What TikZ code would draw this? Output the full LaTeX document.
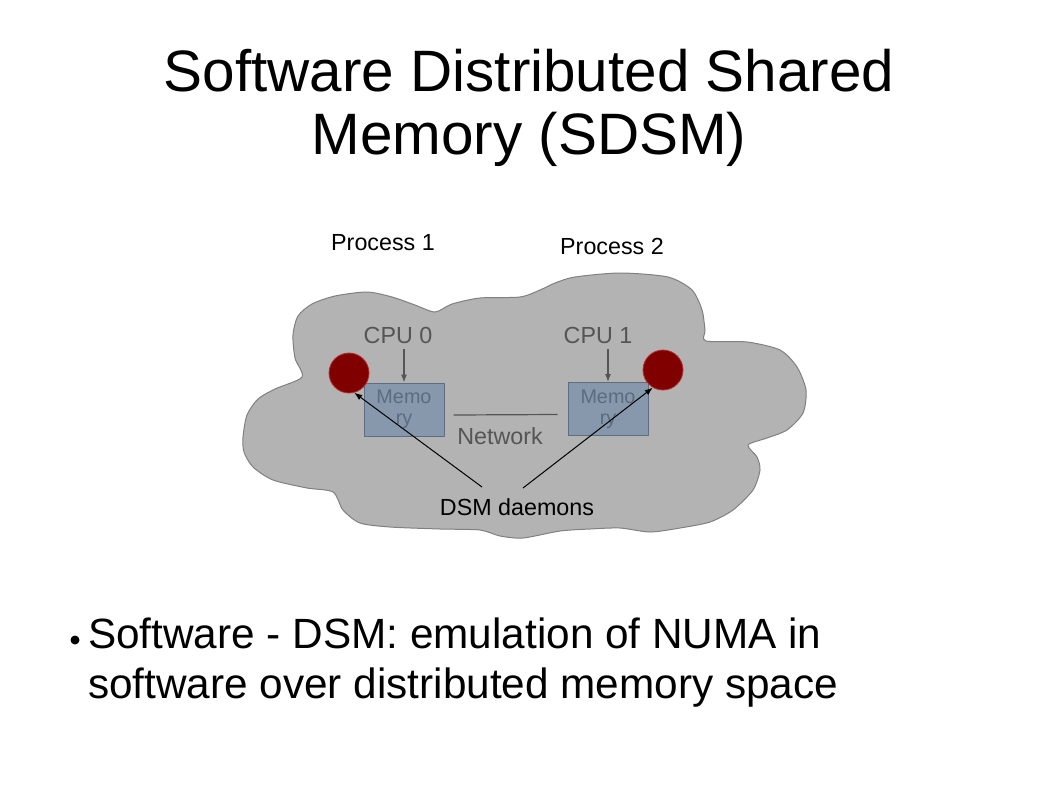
\documentclass[tikz,border=0pt]{standalone}
\usepackage{fontspec}
\setmainfont{Liberation Sans}
\usetikzlibrary{arrows.meta}
\definecolor{cloudfill}{HTML}{B3B3B3}
\definecolor{cloudline}{HTML}{808080}
\definecolor{lblgray}{HTML}{555555}
\definecolor{memfill}{HTML}{8798AC}
\definecolor{memline}{HTML}{5E6E80}
\definecolor{memtext}{HTML}{5C6C7E}
\definecolor{daemonred}{HTML}{800000}
\definecolor{daemonrim}{HTML}{B03030}
\tikzset{
  lbl/.style={inner sep=0pt,font=\fontsize{23.3}{28}\selectfont},
  cpulbl/.style={lbl,text=lblgray},
  membox/.style={draw=memline,fill=memfill,line width=1pt,minimum width=80pt,minimum height=53pt,
    inner sep=0pt,align=center,text=memtext,font=\fontsize{19.8}{21}\selectfont},
  daemon/.style={circle,fill=daemonred,draw=daemonrim,line width=0.8pt,minimum size=40pt,inner sep=0pt},
}
\begin{document}
\begin{tikzpicture}[x=1pt,y=-1pt,>={Latex[length=8pt,width=6pt]},line join=round]
  \useasboundingbox[fill=white] (0,0) rectangle (1058,793);
  % title
  \node[align=center,inner sep=0pt,font=\fontsize{58.4}{63}\selectfont] (title) at (529,108)
    {Software Distributed Shared\\Memory (SDSM)};
  % cloud
  \draw[cloudline,fill=cloudfill,line width=1pt] plot[smooth cycle,tension=0.45] coordinates {
    (243,437) (247,415) (258,399) (275,389) (302,377) (295,358) (293,335) (298,316)
    (312,304) (335,296) (367,292) (392,297) (415,305) (435,312) (452,304) (480,298)
    (520,297) (540,290) (555,283) (575,277) (620,273) (668,277) (692,290) (702,310)
    (705,330) (706,341) (747,342) (780,350) (797,367) (806,390) (803,413) (787,430)
    (767,438) (748,445) (757,457) (760,470) (753,490) (733,510) (710,522) (680,528)
    (650,532) (620,528) (590,529) (560,531) (523,538) (500,536) (480,530) (440,529)
    (390,527) (360,523) (343,510) (333,492) (307,488) (273,480) (253,467) (244,452)};
  \node[lbl] (proc1) at (383,243) {Process 1};
  \node[lbl] (proc2) at (612,246) {Process 2};
  \node[cpulbl] (cpuA) at (398,335) {CPU 0};
  \node[cpulbl] (cpuB) at (598,335) {CPU 1};
  \node[membox] (memA) at (404,409.5) {Memo\\ry};
  \node[membox] (memB) at (608,409) {Memo\\ry};
  \node[daemon] (daemonA) at (349,373) {};
  \node[daemon] (daemonB) at (663,370) {};
  \node[cpulbl] (network) at (500,436) {Network};
  \node[lbl] (dsm) at (517,507) {DSM daemons};
  \coordinate (dsmL) at (482,487);
  \coordinate (dsmR) at (523,488);
  \draw[lblgray,line width=1.2pt,->] (memA.north |- 0,349) -- (memA.north);
  \draw[lblgray,line width=1.2pt,->] (memB.north |- 0,349) -- (memB.north);
  \draw[lblgray,line width=1.2pt] ([xshift=9pt,yshift=-5.5pt]memA.east) -- ([xshift=-10pt,yshift=-5.5pt]memB.west);
  \draw[line width=1pt,->] (dsmL) -- (daemonA.-75);
  \draw[line width=1pt,->] (dsmR) -- (daemonB.-120);
  % bullet
  \node[circle,fill,inner sep=0pt,minimum size=9pt] (dot) at (75,640) {};
  \node[anchor=base west,align=left,inner sep=0pt,font=\fontsize{42.3}{50}\selectfont] (point) at (88,698)
    {Software - DSM: emulation of NUMA in\\software over distributed memory space};
\end{tikzpicture}
\end{document}
